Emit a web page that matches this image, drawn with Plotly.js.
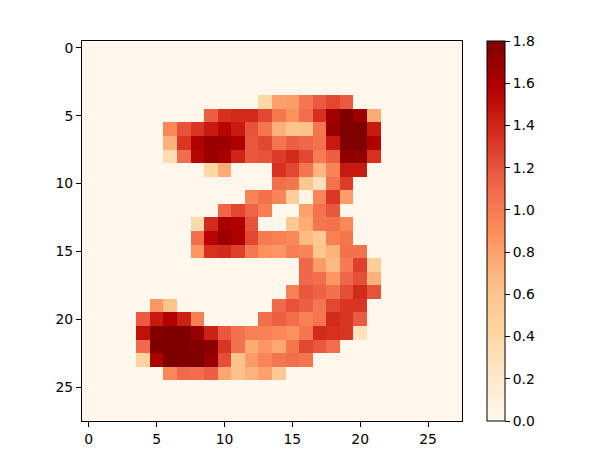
<!DOCTYPE html>
<html>
<head>
<meta charset="utf-8">
<script src="https://cdn.plot.ly/plotly-3.0.1.min.js"></script>
<style>
  html, body { margin: 0; padding: 0; background: #fff; }
</style>
</head>
<body>
<div id="chart" style="width:598px;height:464px;"></div>
<script>
// pixel values, one list per image row
const pixels = [
  [0,0,0,0,0,0,0,0,0,0,0,0,0,0,0,0,0,0,0,0,0,0,0,0,0,0,0,0],
  [0,0,0,0,0,0,0,0,0,0,0,0,0,0,0,0,0,0,0,0,0,0,0,0,0,0,0,0],
  [0,0,0,0,0,0,0,0,0,0,0,0,0,0,0,0,0,0,0,0,0,0,0,0,0,0,0,0],
  [0,0,0,0,0,0,0,0,0,0,0,0,0,0,0,0,0,0,0,0,0,0,0,0,0,0,0,0],
  [0,0,0,0,0,0,0,0,0,0,0,0,0,0.4,0.8,0.82,1.03,1.17,1.25,1.17,0,0,0,0,0,0,0,0],
  [0,0,0,0,0,0,0,0,0,1.15,1.35,1.38,1.38,1.25,1.02,0.88,1.08,1.35,1.65,1.8,1.68,0.75,0,0,0,0,0,0],
  [0,0,0,0,0,0,0.93,1.2,1.33,1.45,1.55,1.45,1.2,1.03,0.73,0.6,0.62,1.03,1.68,1.8,1.8,1.45,0,0,0,0,0,0],
  [0,0,0,0,0,0,0.72,1.33,1.58,1.68,1.68,1.6,1.18,1.25,1.03,1.15,1.12,1.05,1.45,1.8,1.8,1.58,0,0,0,0,0,0],
  [0,0,0,0,0,0,0.35,1.08,1.55,1.68,1.62,1.4,1.18,1.2,1.3,1.38,1.25,1,1.15,1.72,1.72,1.35,0,0,0,0,0,0],
  [0,0,0,0,0,0,0,0,0,0.42,0.75,0,0,0,1.35,1.25,1.03,0.7,0.95,1.45,1.45,0,0,0,0,0,0,0],
  [0,0,0,0,0,0,0,0,0,0,0,0,0,0,1.08,1.03,0.58,0.3,1.05,1.3,0,0,0,0,0,0,0,0],
  [0,0,0,0,0,0,0,0,0,0,0,0,0.95,1.05,0.95,0.5,0.04,0.95,1.32,0.82,0,0,0,0,0,0,0,0],
  [0,0,0,0,0,0,0,0,0,0,1.12,1.25,1.13,0.98,0,0,0.8,1.05,1.18,0,0,0,0,0,0,0,0,0],
  [0,0,0,0,0,0,0,0,0.38,1.38,1.62,1.58,1.2,0,0,0.55,0.75,1.03,1.05,0.92,0,0,0,0,0,0,0,0],
  [0,0,0,0,0,0,0,0,1.08,1.55,1.68,1.6,1.25,1,0.97,0.93,0.68,0.55,0.97,1.03,0,0,0,0,0,0,0,0],
  [0,0,0,0,0,0,0,0,0.85,1.35,1.38,1.28,1.02,0.88,0.85,0.98,0.95,0.58,0.72,1.05,1.05,0,0,0,0,0,0,0],
  [0,0,0,0,0,0,0,0,0,0,0,0,0,0,0,0,1.12,0.83,0.68,1,1.28,0.5,0,0,0,0,0,0],
  [0,0,0,0,0,0,0,0,0,0,0,0,0,0,0,0,1.12,1.07,0.85,1.12,1.22,0.72,0,0,0,0,0,0],
  [0,0,0,0,0,0,0,0,0,0,0,0,0,0,0,0.97,1.18,1.14,1.06,1.22,1.38,1.21,0,0,0,0,0,0],
  [0,0,0,0,0,0.85,0.6,0,0,0,0,0,0,0,1.1,1.2,1.15,1.03,1.25,1.33,1.33,0,0,0,0,0,0,0],
  [0,0,0,0,1.17,1.45,1.58,1.42,0.98,0,0,0,0,1.07,1.15,1.08,0.97,1.03,1.38,1.33,1.17,0,0,0,0,0,0,0],
  [0,0,0,0,1.5,1.78,1.8,1.8,1.7,1.42,1.18,1.06,0.97,0.97,0.93,0.88,1.03,1.38,1.35,1.33,0.28,0,0,0,0,0,0,0],
  [0,0,0,0,1.1,1.8,1.8,1.8,1.78,1.75,1.33,1.05,0.75,0.85,0.78,1.03,1.25,1.18,1.08,0,0,0,0,0,0,0,0,0],
  [0,0,0,0,0.45,1.6,1.8,1.8,1.8,1.7,1.22,0.6,0.83,0.95,1.03,1.08,1.03,0,0,0,0,0,0,0,0,0,0,0],
  [0,0,0,0,0,0,0.93,1.1,1.08,1.15,0.78,0.62,0.72,0.8,0.55,0,0,0,0,0,0,0,0,0,0,0,0,0],
  [0,0,0,0,0,0,0,0,0,0,0,0,0,0,0,0,0,0,0,0,0,0,0,0,0,0,0,0],
  [0,0,0,0,0,0,0,0,0,0,0,0,0,0,0,0,0,0,0,0,0,0,0,0,0,0,0,0],
  [0,0,0,0,0,0,0,0,0,0,0,0,0,0,0,0,0,0,0,0,0,0,0,0,0,0,0,0]
];
const axisTicks = [0, 5, 10, 15, 20, 25];
const barTicks = [0, 0.2, 0.4, 0.6, 0.8, 1, 1.2, 1.4, 1.6, 1.8];
const barLabels = ['0.0', '0.2', '0.4', '0.6', '0.8', '1.0', '1.2', '1.4', '1.6', '1.8'];

// matplotlib OrRd
const orRd = [
  [0, '#fff7ec'], [0.125, '#fee8c8'], [0.25, '#fdd49e'],
  [0.375, '#fdbb84'], [0.5, '#fc8d59'], [0.625, '#ef6548'],
  [0.75, '#d7301f'], [0.875, '#b30000'], [1, '#7f0000']
];

const tickFont = { family: 'DejaVu Sans', size: 13.9, color: '#000' };

const axisBase = {
  tickvals: axisTicks,
  ticks: 'outside',
  ticklen: 5,
  tickwidth: 1,
  tickcolor: '#000',
  tickfont: tickFont,
  showgrid: false,
  zeroline: false,
  showline: true,
  mirror: true,
  linecolor: '#000',
  linewidth: 1
};

const trace = {
  type: 'heatmap',
  z: pixels,
  zmin: 0,
  zmax: 1.8,
  colorscale: orRd,
  hoverongaps: false,
  colorbar: {
    x: 1.066,
    xanchor: 'left',
    xpad: 0,
    ypad: 0,
    y: 0.5,
    len: 1,
    thickness: 18,
    outlinewidth: 1,
    outlinecolor: '#000',
    tickvals: barTicks,
    ticktext: barLabels,
    ticks: 'outside',
    ticklen: 5,
    tickwidth: 1,
    tickcolor: '#000',
    tickfont: tickFont
  }
};

const layout = {
  width: 598,
  height: 464,
  margin: { l: 82, r: 136, t: 41, b: 43, pad: 0 },
  paper_bgcolor: '#fff',
  plot_bgcolor: '#fff',
  xaxis: Object.assign({}, axisBase, { range: [-0.5, 27.5], side: 'bottom' }),
  yaxis: Object.assign({}, axisBase, { range: [27.5, -0.5] })
};

Plotly.newPlot('chart', [trace], layout, { displayModeBar: false, staticPlot: true });
</script>
</body>
</html>
